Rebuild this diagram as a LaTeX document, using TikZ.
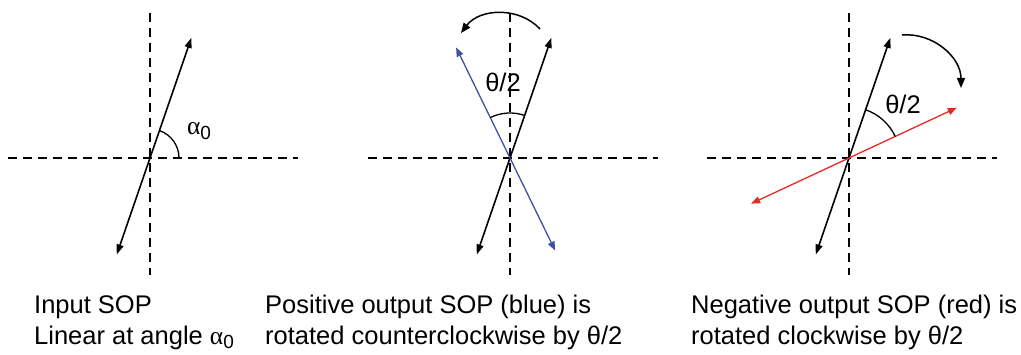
\documentclass[tikz,border=0pt]{standalone}
\usepackage{amsmath}
\usepackage{fontspec}
\setmainfont{Liberation Sans}
\newfontfamily\greekserif{Liberation Serif}
\usetikzlibrary{arrows.meta,calc}
\definecolor{SOPBlue}{HTML}{3F51A3}
\definecolor{SOPRed}{HTML}{E52A26}
\newcommand{\lowsub}[1]{\raisebox{-0.18em}{\fontsize{19}{19}\selectfont #1}}
\newcommand{\sopalpha}{{\greekserif α}\lowsub{0}}
\tikzset{
  sopAxis/.style={draw=black, line width=1.7pt, dash pattern=on 9pt off 6pt},
  sopIn/.style={{Triangle[length=10pt,width=7pt]}-{Triangle[length=10pt,width=7pt]},
    draw=black, line width=1.6pt},
  sopOut/.style={{Triangle[length=9pt,width=7pt]}-{Triangle[length=9pt,width=7pt]},
    draw=#1, line width=1.3pt},
  sopOut/.default=SOPBlue,
  sopTurn/.style={-{Triangle[length=10pt,width=8pt]}, draw=black, line width=1.5pt},
  sopAngle/.style={draw=black, line width=1.3pt},
  sopLabel/.style={inner sep=0pt, font=\fontsize{25.5}{31}\selectfont},
  sopCaption/.style={anchor=base west, inner sep=0pt, font=\fontsize{25.5}{31}\selectfont}
}

\begin{document}
\begin{tikzpicture}[x=1pt, y=1pt]
  \useasboundingbox (0,0) rectangle (1021,354);
  \coordinate (o1) at (150,196);
  \coordinate (o2) at (510,196);
  \coordinate (o3) at (849,196);

  % axes and the input SOP in every panel
  \foreach \o in {o1,o2,o3} {
    \draw[sopAxis] ([xshift=-142pt]\o) -- ([xshift=148pt]\o);
    \draw[sopAxis] ([yshift=145pt]\o) -- ([yshift=-117pt]\o);
    \draw[sopIn] ($(\o)+(251:102)$) -- ($(\o)+(71:127)$);
  }

  % output SOPs
  \draw[sopOut=SOPBlue] ($(o2)+(-64:103)$) -- ($(o2)+(116:123)$);
  \draw[sopOut=SOPRed] ($(o3)+(205:108)$) -- ($(o3)+(25:119)$);

  % angles
  \draw[sopAngle] ($(o1)+(0:29)$) arc[start angle=0, end angle=71, radius=29];
  \draw[sopAngle] ($(o2)+(71:45)$) arc[start angle=71, end angle=116, radius=45];
  \draw[sopAngle] ($(o3)+(25:51)$) arc[start angle=25, end angle=71, radius=51];
  \node[sopLabel] (alpha) at (199,223) {\sopalpha};
  \node[sopLabel] (halfccw) at (503,272) {θ/2};
  \node[sopLabel] (halfcw) at (903,250) {θ/2};

  % sense of rotation
  \coordinate (ccwFrom) at (540,325);
  \coordinate (ccwTo) at (461,321);
  \draw[sopTurn] (ccwFrom) to[bend right=50] (ccwTo);
  \coordinate (cwFrom) at (902,319);
  \coordinate (cwTo) at (961,266);
  \draw[sopTurn] (cwFrom) to[out=5, in=90] (cwTo);

  % captions
  \node[sopCaption] (inA) at (34,41) {Input SOP};
  \node[sopCaption] (inB) at (34,10) {Linear at angle \sopalpha};
  \node[sopCaption] (posA) at (265,41) {Positive output SOP (blue) is};
  \node[sopCaption] (posB) at (265,10) {rotated counterclockwise by θ/2};
  \node[sopCaption] (negA) at (691,41) {Negative output SOP (red) is};
  \node[sopCaption] (negB) at (691,10) {rotated clockwise by θ/2};
\end{tikzpicture}
\end{document}
